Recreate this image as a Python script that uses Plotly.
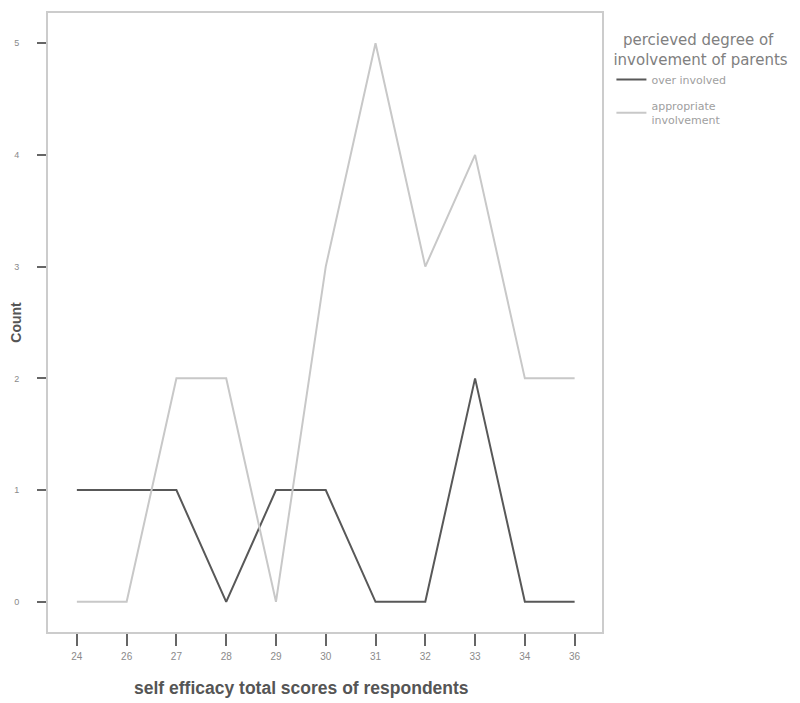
import plotly.graph_objects as go

scores = ["24", "26", "27", "28", "29", "30", "31", "32", "33", "34", "36"]
over_involved = [1, 1, 1, 0, 1, 1, 0, 0, 2, 0, 0]
appropriate_involvement = [0, 0, 2, 2, 0, 3, 5, 3, 4, 2, 2]
y_ticks = [0, 1, 2, 3, 4, 5]

fig = go.Figure()
fig.add_trace(go.Scatter(x=scores, y=over_involved, mode="lines", name="over involved",
                         legendgroup="a", line=dict(color="#585858", width=2)))
fig.add_trace(go.Scatter(x=scores, y=appropriate_involvement, mode="lines",
                         name="appropriate<br>involvement", legendgroup="b",
                         line=dict(color="#c8c8c8", width=2)))

fig.update_layout(
    width=792, height=695,
    margin=dict(l=40, r=198, t=5, b=71, autoexpand=False),
    paper_bgcolor="white", plot_bgcolor="white",
    font=dict(family="Liberation Sans, Arial, sans-serif", color="#666666"),
    showlegend=True,
    legend=dict(
        x=1.017, y=0.979, xanchor="left", yanchor="top",
        title=dict(text="\u00a0\u00a0percieved degree of<br>involvement of parents",
                   font=dict(family="DejaVu Sans", size=15, color="#808080")),
        font=dict(family="DejaVu Sans", size=11, color="#a0a0a0"),
        itemwidth=30, tracegroupgap=8,
    ),
    xaxis=dict(
        type="category", range=[-0.58, 10.55], automargin=False,
        showgrid=False, showline=True, linecolor="#cccccc", linewidth=2, mirror=True,
        ticks="outside", ticklen=12, tickwidth=1.5, tickcolor="#666666", ticklabelstandoff=2,
        tickfont=dict(size=10, color="#8a8a8a"),
    ),
    yaxis=dict(
        range=[-0.27, 5.27], tickvals=y_ticks, automargin=False,
        showgrid=False, zeroline=False, showline=True, linecolor="#cccccc", linewidth=2, mirror=True,
        ticks="outside", ticklen=9, tickwidth=1.5, tickcolor="#666666", ticklabelstandoff=16,
        tickfont=dict(size=9, color="#8a8a8a"),
        title=dict(text="<b>Count</b>", font=dict(size=14, color="#555555"), standoff=6),
    ),
    annotations=[dict(
        text="<b>self efficacy total scores of respondents</b>",
        xref="paper", yref="paper", x=0.4567, y=0, yshift=-56,
        xanchor="center", yanchor="middle", showarrow=False,
        font=dict(size=17.5, color="#555555"),
    )],
)

fig.write_html("out.html")
